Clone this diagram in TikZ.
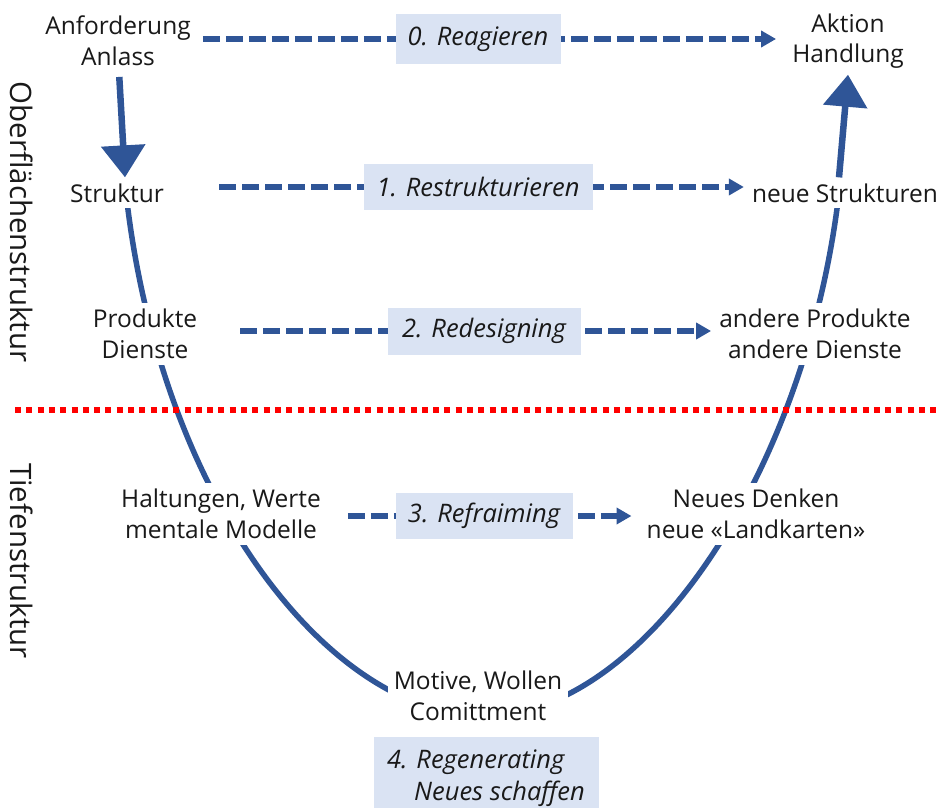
\documentclass[tikz,border=0pt]{standalone}
\usepackage{fontspec}
\setmainfont{Open Sans}
\usetikzlibrary{arrows.meta,backgrounds}
\definecolor{ublue}{HTML}{2F5597}
\definecolor{lblue}{HTML}{DAE3F3}
\begin{document}
\begin{tikzpicture}[x=1pt,y=-1pt,
  txt/.style={font=\fontsize{24.5}{30.5}\selectfont, align=center, fill=white, inner sep=6pt, text=black!90},
  lab/.style={font=\fontsize{25.5}{32}\selectfont\itshape, fill=lblue, inner sep=0pt, text=black!90},
  labtext/.style={font=\fontsize{25.5}{32}\selectfont\itshape, inner sep=0pt, text=black!90, align=left},
  bigarrow/.style={ublue, line width=6.5pt, -{Triangle[length=32pt,width=43pt]}},
  dasharrow/.style={ublue, line width=5.5pt, dash pattern=on 17pt off 6pt, -{Triangle[length=15pt,width=16pt]}},
  ucurve/.style={ublue, line width=5.5pt},
  sepline/.style={red, line width=5.5pt, dash pattern=on 6pt off 5.3pt},
  side/.style={font=\fontsize{29.5}{34}\selectfont, rotate=-90, inner sep=0pt, text=black!90}]
\useasboundingbox (0,0) rectangle (939,810);

% text nodes
\node[txt] (anf) at (118,41) {Anforderung\\Anlass};
\node[txt] (akt) at (848,41) {Aktion\\Handlung};
\node[txt] (str) at (117,193) {Struktur};
\node[txt] (nstr) at (845,193) {neue Strukturen};
\node[txt] (prod) at (145,334) {Produkte\\Dienste};
\node[txt] (aprod) at (815,334) {andere Produkte\\andere Dienste};
\node[txt] (halt) at (221,514) {Haltungen, Werte\\mentale Modelle};
\node[txt] (neues) at (756,514) {Neues Denken\\neue «Landkarten»};
\node[txt] (mot) at (478,696) {Motive, Wollen\\Comittment};

% side labels
\node[side] (ober) at (22,222) {Oberflächenstruktur};
\node[side] (tief) at (22,561) {Tiefenstruktur};

% step labels
\node[lab, minimum width=165pt, minimum height=50pt] (lab0) at (478,39) {0. Reagieren};
\node[lab, minimum width=229pt, minimum height=46pt] (lab1) at (478,187) {1. Restrukturieren};
\node[lab, minimum width=193pt, minimum height=47pt] (lab2) at (484,331) {2. Redesigning};
\node[lab, minimum width=177pt, minimum height=46pt] (lab3) at (484,516) {3. Refraiming};
\node[lab, minimum width=225pt, minimum height=71pt] (lab4) at (486,772) {};
\node[labtext] (lab4t) at (486,778) {4. Regenerating\\\hspace*{27pt}Neues schaffen};

\begin{scope}[on background layer]
  % U curve through the nodes
  \coordinate (u1) at (126,193);
  \coordinate (ub) at (484,716);
  \coordinate (u2) at (839,193);
  \draw[ucurve] (u1) .. controls (160,500) and (330,716) .. (ub)
                     .. controls (640,716) and (805,480) .. (u2);
  % separator
  \coordinate (sl) at (15,410);
  \coordinate (sr) at (939,410);
  \draw[sepline] (sl) -- (sr);
  % dashed arrows
  \draw[dasharrow, shorten <=6pt, shorten >=10pt] (anf.east |- lab0.center) -- (akt.west |- lab0.center);
  \draw[dasharrow, shorten <=49pt, shorten >=2pt] (str.east |- lab1.center) -- (nstr.west |- lab1.center);
  \draw[dasharrow, shorten <=37pt, shorten >=2pt] (prod.east |- lab2.center) -- (aprod.west |- lab2.center);
  \draw[dasharrow, shorten <=21pt, shorten >=9pt] (halt.east |- lab3.center) -- (neues.west |- lab3.center);
\end{scope}

% solid arrows
\draw[bigarrow, shorten <=5pt] ([xshift=1pt]anf.south) -- ([xshift=8pt]str.north);
\draw[bigarrow] ([xshift=-6pt]nstr.north) -- (akt.south);
\end{tikzpicture}
\end{document}
